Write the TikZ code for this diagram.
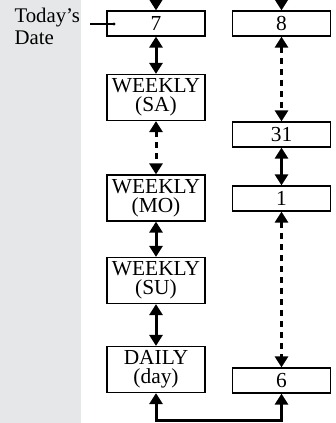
\documentclass[tikz,border=0pt]{standalone}
\usepackage{fontspec}
\setmainfont{Liberation Serif}
\usetikzlibrary{arrows.meta}
\definecolor{sidegray}{RGB}{230,231,232}

\begin{document}
\begin{tikzpicture}[x=0.5pt,y=-0.5pt,line width=1.5pt,>={Triangle[width=6.5pt,length=5.5pt]},
    box/.style={draw,line width=0.6pt,inner sep=0pt,minimum width=49pt,align=center,
        font=\fontsize{10.7}{9.3}\selectfont},
    onebox/.style={box,minimum height=12.5pt},
    twobox/.style={box,minimum height=23pt},
    dashlink/.style={<->,dash pattern=on 3pt off 2.5pt}]
    \useasboundingbox (0,0) rectangle (336,423);
    \fill[sidegray] (0,0) rectangle (81,423);

    % left column
    \node[onebox] (d7) at (156,23.5) {7};
    \node[twobox] (sa) at (156,97.5) {WEEKLY\\(SA)};
    \node[twobox] (mo) at (156,198) {WEEKLY\\(MO)};
    \node[twobox] (su) at (156,280.5) {WEEKLY\\(SU)};
    \node[twobox] (daily) at (156,369.5) {DAILY\\(day)};

    % right column
    \node[onebox] (d8) at (281.5,23.5) {8};
    \node[onebox] (d31) at (281.5,134.5) {31};
    \node[onebox] (d1) at (281.5,198.5) {1};
    \node[onebox] (d6) at (281.5,380.5) {6};

    \coordinate (top7) at (156,0);
    \coordinate (top8) at (281.5,0);
    \draw[->] (top7) -- (d7);
    \draw[->] (top8) -- (d8);

    \draw[<->] (d7) -- (sa);
    \draw[dashlink] (sa) -- (mo);
    \draw[<->] (mo) -- (su);
    \draw[<->] (su) -- (daily);

    \draw[dashlink] (d8) -- (d31);
    \draw[<->] (d31) -- (d1);
    \draw[dashlink] (d1) -- (d6);

    \draw[<->] (daily.south) -- ++(0,27.5) -| (d6.south);

    % label on the left
    \node[anchor=north west,inner sep=0pt,align=left,font=\fontsize{10.4}{11}\selectfont]
        (today) at (13,7) {Today's\\Date};
    \coordinate (lead) at (90,24);
    \coordinate (pin) at (114,24);
    \draw[line width=0.6pt] (lead) -- (pin);
    \fill (pin) circle (1.6);
\end{tikzpicture}
\end{document}
